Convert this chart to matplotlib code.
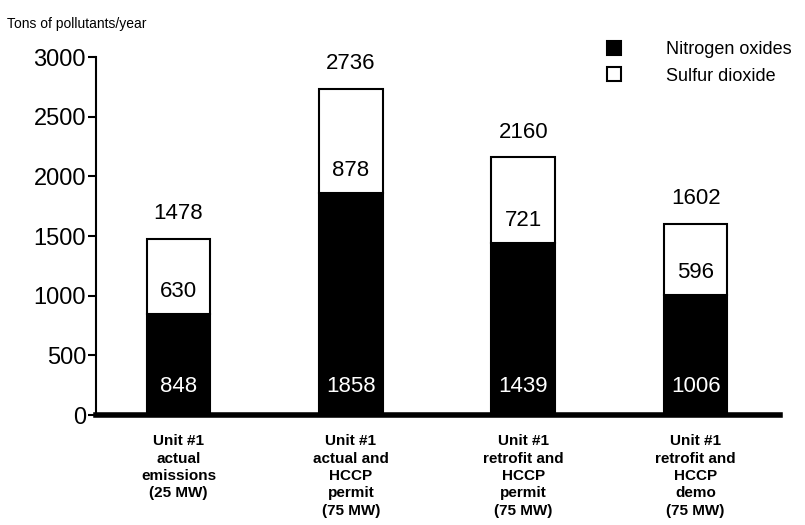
import matplotlib
matplotlib.use('Agg')
import matplotlib.pyplot as plt
import numpy as np

categories = ['Unit #1\nactual\nemissions\n(25 MW)',
              'Unit #1\nactual and\nHCCP\npermit\n(75 MW)',
              'Unit #1\nretrofit and\nHCCP\npermit\n(75 MW)',
              'Unit #1\nretrofit and\nHCCP\ndemo\n(75 MW)']
nox = [848, 1858, 1439, 1006]
so2 = [630, 878, 721, 596]
totals = [1478, 2736, 2160, 1602]

plt.rcParams['font.family'] = ['Liberation Sans', 'DejaVu Sans']

fig = plt.figure(figsize=(8.05, 5.25), dpi=100)
ax = fig.add_axes([0.119, 0.2095, 0.85, 0.6815])

x = np.arange(len(categories))
w = 0.37
ax.bar(x, nox, w, color='black', edgecolor='black', linewidth=1.5, label='Nitrogen oxides')
ax.bar(x, so2, w, bottom=nox, color='white', edgecolor='black', linewidth=1.5, label='Sulfur dioxide')

for i in range(len(x)):
    ax.text(x[i], 240, str(nox[i]), color='white', ha='center', va='center', fontsize=16)
    ax.text(x[i], nox[i] + 190, str(so2[i]), color='black', ha='center', va='center', fontsize=16)
    ax.text(x[i], totals[i] + 210, str(totals[i]), color='black', ha='center', va='center', fontsize=16)

ax.set_xlim(-0.48, 3.49)
ax.set_ylim(0, 3000)
ax.set_yticks([0, 500, 1000, 1500, 2000, 2500, 3000])
ax.tick_params(axis='y', labelsize=17, length=6, width=1.5, pad=1)
ax.set_xticks(x)
ax.set_xticklabels(categories, fontsize=11, fontweight='bold', linespacing=1.3)
ax.tick_params(axis='x', length=0, pad=14)

for s in ['top', 'right']:
    ax.spines[s].set_visible(False)
ax.spines['left'].set_linewidth(1.5)
ax.spines['bottom'].set_linewidth(4)

fig.text(0.009, 0.955, 'Tons of pollutants/year', fontsize=10, va='center', ha='left')

ax.legend(loc='upper right', bbox_to_anchor=(1.04, 1.09), frameon=False, fontsize=13,
          handlelength=0.8, handleheight=0.8, handletextpad=2.45, labelspacing=0.5)

plt.savefig('out.png', dpi=100)
